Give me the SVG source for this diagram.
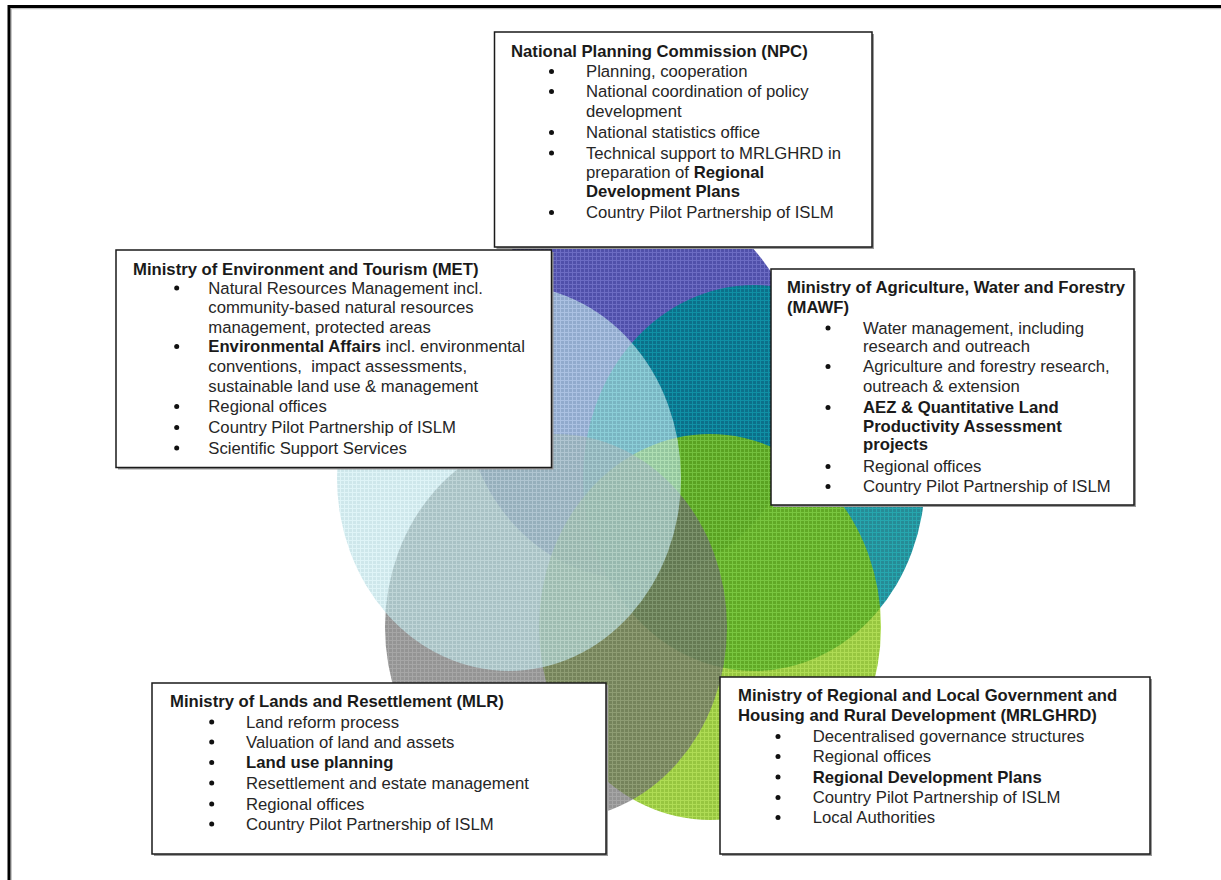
<svg xmlns="http://www.w3.org/2000/svg" width="1221" height="880" viewBox="0 0 1221 880">
<defs>
<pattern id="pPurple" width="4" height="4" patternUnits="userSpaceOnUse"><rect width="4" height="4" fill="#3c3ca0"/><path d="M0 0.5H4M0.5 0V4" stroke="#5c5cbc" stroke-width="1"/></pattern>
<pattern id="pTeal" width="4" height="4" patternUnits="userSpaceOnUse"><rect width="4" height="4" fill="#007684"/><path d="M0 0.5H4M0.5 0V4" stroke="#0096a0" stroke-width="1"/></pattern>
<pattern id="pLime" width="4" height="4" patternUnits="userSpaceOnUse"><rect width="4" height="4" fill="#74b300"/><path d="M0 0.5H4M0.5 0V4" stroke="#94d01c" stroke-width="1"/></pattern>
<pattern id="pGray" width="4" height="4" patternUnits="userSpaceOnUse"><rect width="4" height="4" fill="#666666"/><path d="M0 0.5H4M0.5 0V4" stroke="#808080" stroke-width="1"/></pattern>
<pattern id="pLight" width="4" height="4" patternUnits="userSpaceOnUse"><rect width="4" height="4" fill="#b4dae0"/><path d="M0 0.5H4M0.5 0V4" stroke="#cdeef2" stroke-width="1"/></pattern>
</defs>
<style>
.box{fill:#ffffff;stroke:#1a1a1a;stroke-width:1.5}
.shadow{fill:#9a9a9a}
.t{font-family:"Liberation Sans",Arial,sans-serif;font-size:16.7px;fill:#262626}
.b{font-weight:bold;fill:#1a1a1a}
.dot{fill:#111111}
</style>
<rect width="1221" height="880" fill="#ffffff"/>
<path d="M11.2 880V8.7H1221" fill="none" stroke="#b0b0b0" stroke-width="1"/>
<path d="M9 880V6.5H1221" fill="none" stroke="#000000" stroke-width="3"/>

<g id="circles">
<ellipse cx="633" cy="386" rx="171" ry="193" fill="url(#pPurple)" opacity="0.9"/>
<ellipse cx="754" cy="478" rx="171" ry="193" fill="url(#pTeal)" opacity="0.85"/>
<ellipse cx="710" cy="627" rx="171" ry="193" fill="url(#pLime)" opacity="0.75"/>
<ellipse cx="556" cy="627" rx="171" ry="193" fill="url(#pGray)" opacity="0.7"/>
<ellipse cx="509" cy="478" rx="172" ry="193" fill="url(#pLight)" opacity="0.65"/>
</g>

<g id="connectors"></g>

<g id="npc">
<rect class="shadow" x="496.5" y="34" width="377.5" height="215"/>
<rect class="box" x="494.5" y="32" width="377.5" height="215"/>
<text class="t b" x="511" y="57">National Planning Commission (NPC)</text>
<circle class="dot" cx="551.5" cy="71.5" r="2.5"/>
<text class="t" x="586" y="77">Planning, cooperation</text>
<circle class="dot" cx="551.5" cy="91.5" r="2.5"/>
<text class="t" x="586" y="97">National coordination of policy</text>
<text class="t" x="586" y="117">development</text>
<circle class="dot" cx="551.5" cy="132.5" r="2.5"/>
<text class="t" x="586" y="138">National statistics office</text>
<circle class="dot" cx="551.5" cy="153" r="2.5"/>
<text class="t" x="586" y="158.5">Technical support to MRLGHRD in</text>
<text class="t" x="586" y="178">preparation of <tspan class="b">Regional</tspan></text>
<text class="t b" x="586" y="197">Development Plans</text>
<circle class="dot" cx="551.5" cy="212.5" r="2.5"/>
<text class="t" x="586" y="218">Country Pilot Partnership of ISLM</text>
</g>

<g id="met">
<rect class="shadow" x="118" y="252" width="435.5" height="217.5"/>
<rect class="box" x="116" y="250" width="435.5" height="217.5"/>
<text class="t b" x="133" y="274.5">Ministry of Environment and Tourism (MET)</text>
<circle class="dot" cx="176.7" cy="288" r="2.5"/>
<text class="t" x="208.3" y="293.5">Natural Resources Management incl.</text>
<text class="t" x="208.3" y="313">community-based natural resources</text>
<text class="t" x="208.3" y="333">management, protected areas</text>
<circle class="dot" cx="176.7" cy="346.5" r="2.5"/>
<text class="t" x="208.3" y="352"><tspan class="b">Environmental Affairs</tspan> incl. environmental</text>
<text class="t" x="208.3" y="372" xml:space="preserve">conventions,  impact assessments,</text>
<text class="t" x="208.3" y="392">sustainable land use &amp; management</text>
<circle class="dot" cx="176.7" cy="406.5" r="2.5"/>
<text class="t" x="208.3" y="412">Regional offices</text>
<circle class="dot" cx="176.7" cy="427.5" r="2.5"/>
<text class="t" x="208.3" y="433">Country Pilot Partnership of ISLM</text>
<circle class="dot" cx="176.7" cy="448" r="2.5"/>
<text class="t" x="208.3" y="453.5">Scientific Support Services</text>
</g>

<g id="mawf">
<rect class="shadow" x="773" y="271" width="363" height="236"/>
<rect class="box" x="771" y="269" width="363" height="236"/>
<text class="t b" x="787" y="293">Ministry of Agriculture, Water and Forestry</text>
<text class="t b" x="787" y="312.5">(MAWF)</text>
<circle class="dot" cx="828" cy="328" r="2.5"/>
<text class="t" x="863" y="333.5">Water management, including</text>
<text class="t" x="863" y="352">research and outreach</text>
<circle class="dot" cx="828" cy="366.5" r="2.5"/>
<text class="t" x="863" y="372">Agriculture and forestry research,</text>
<text class="t" x="863" y="391.5">outreach &amp; extension</text>
<circle class="dot" cx="828" cy="407.5" r="2.5"/>
<text class="t b" x="863" y="413">AEZ &amp; Quantitative Land</text>
<text class="t b" x="863" y="432">Productivity Assessment</text>
<text class="t b" x="863" y="450">projects</text>
<circle class="dot" cx="828" cy="466.5" r="2.5"/>
<text class="t" x="863" y="472">Regional offices</text>
<circle class="dot" cx="828" cy="486.5" r="2.5"/>
<text class="t" x="863" y="492">Country Pilot Partnership of ISLM</text>
</g>

<g id="mlr">
<rect class="shadow" x="154" y="685" width="454" height="171"/>
<rect class="box" x="152" y="683" width="454" height="171"/>
<text class="t b" x="170" y="707">Ministry of Lands and Resettlement (MLR)</text>
<circle class="dot" cx="211.7" cy="722" r="2.5"/>
<text class="t" x="246" y="727.5">Land reform process</text>
<circle class="dot" cx="211.7" cy="742" r="2.5"/>
<text class="t" x="246" y="747.5">Valuation of land and assets</text>
<circle class="dot" cx="211.7" cy="762.5" r="2.5"/>
<text class="t b" x="246" y="768">Land use planning</text>
<circle class="dot" cx="211.7" cy="783" r="2.5"/>
<text class="t" x="246" y="788.5">Resettlement and estate management</text>
<circle class="dot" cx="211.7" cy="804" r="2.5"/>
<text class="t" x="246" y="809.5">Regional offices</text>
<circle class="dot" cx="211.7" cy="824" r="2.5"/>
<text class="t" x="246" y="829.5">Country Pilot Partnership of ISLM</text>
</g>

<g id="mrlghrd">
<rect class="shadow" x="722" y="679" width="430" height="177"/>
<rect class="box" x="720" y="677" width="430" height="177"/>
<text class="t b" x="738" y="700.5">Ministry of Regional and Local Government and</text>
<text class="t b" x="738" y="721">Housing and Rural Development (MRLGHRD)</text>
<circle class="dot" cx="778" cy="736.5" r="2.5"/>
<text class="t" x="812.7" y="742">Decentralised governance structures</text>
<circle class="dot" cx="778" cy="756.5" r="2.5"/>
<text class="t" x="812.7" y="762">Regional offices</text>
<circle class="dot" cx="778" cy="777" r="2.5"/>
<text class="t b" x="812.7" y="782.5">Regional Development Plans</text>
<circle class="dot" cx="778" cy="797.5" r="2.5"/>
<text class="t" x="812.7" y="803">Country Pilot Partnership of ISLM</text>
<circle class="dot" cx="778" cy="817.5" r="2.5"/>
<text class="t" x="812.7" y="823">Local Authorities</text>
</g>
</svg>
